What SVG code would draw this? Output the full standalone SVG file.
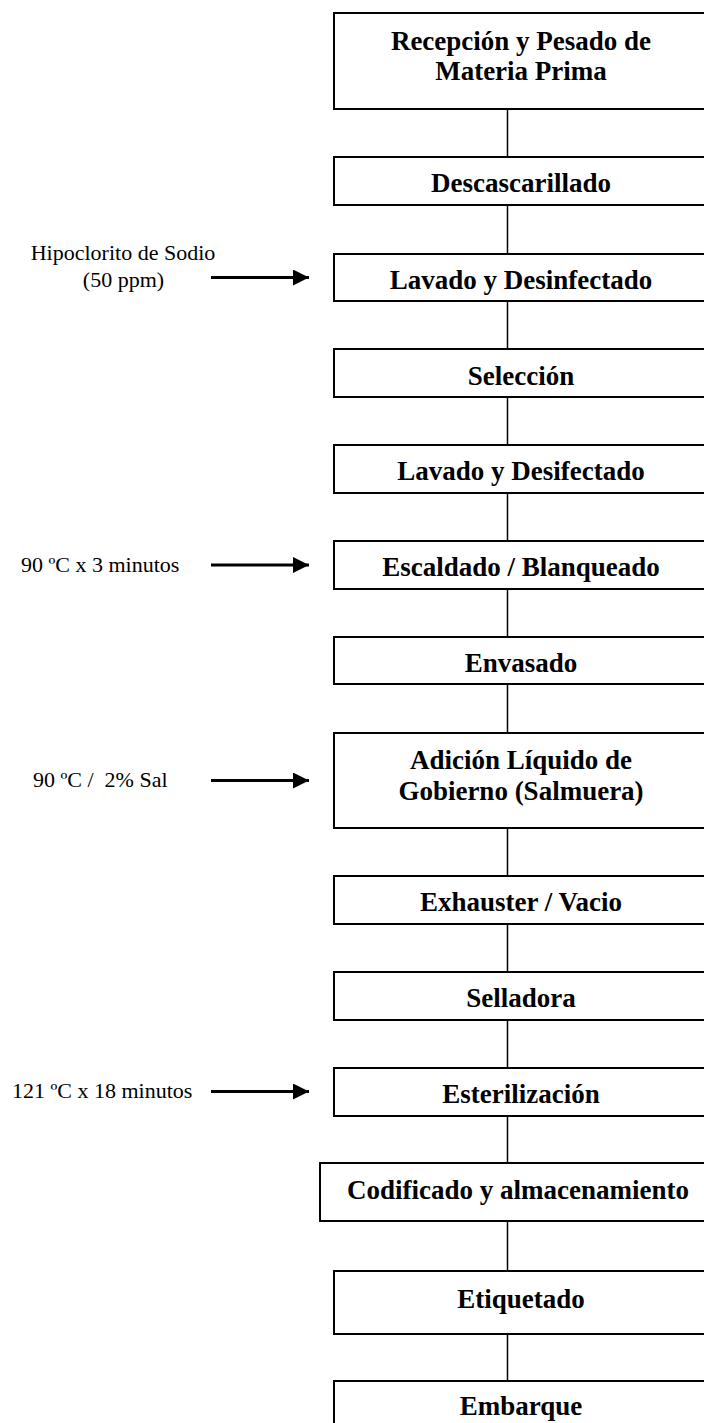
<svg xmlns="http://www.w3.org/2000/svg" width="704" height="1423" viewBox="0 0 704 1423">
<style>
.box{fill:#fff;stroke:#000;stroke-width:2}
.t{font-family:"Liberation Serif","Times New Roman",serif;font-weight:bold;font-size:27px;text-anchor:middle;fill:#000}
.l{font-family:"Liberation Serif","Times New Roman",serif;font-size:22px;fill:#000;white-space:pre}
.c{stroke:#000;stroke-width:1.5;fill:none}
.a{stroke:#000;stroke-width:3;fill:none}
</style>
<defs>
<marker id="ah" markerUnits="userSpaceOnUse" markerWidth="18" markerHeight="18" refX="16" refY="8" orient="auto">
<path d="M0,0 L16,8 L0,16 Z" fill="#000"/>
</marker>
</defs>
<rect width="704" height="1423" fill="#fff"/>
<g id="connectors">
<line class="c" x1="507.5" y1="109" x2="507.5" y2="157"/>
<line class="c" x1="507.5" y1="205" x2="507.5" y2="254"/>
<line class="c" x1="507.5" y1="301" x2="507.5" y2="349"/>
<line class="c" x1="507.5" y1="397" x2="507.5" y2="445"/>
<line class="c" x1="507.5" y1="493" x2="507.5" y2="541"/>
<line class="c" x1="507.5" y1="589" x2="507.5" y2="637"/>
<line class="c" x1="507.5" y1="684" x2="507.5" y2="733"/>
<line class="c" x1="507.5" y1="828" x2="507.5" y2="876"/>
<line class="c" x1="507.5" y1="924" x2="507.5" y2="972"/>
<line class="c" x1="507.5" y1="1020" x2="507.5" y2="1068"/>
<line class="c" x1="507.5" y1="1116" x2="507.5" y2="1163"/>
<line class="c" x1="507.5" y1="1221" x2="507.5" y2="1271"/>
<line class="c" x1="507.5" y1="1334" x2="507.5" y2="1381"/>
<line class="a" x1="211" y1="277.5" x2="309" y2="277.5" marker-end="url(#ah)"/>
<line class="a" x1="211" y1="565" x2="309" y2="565" marker-end="url(#ah)"/>
<line class="a" x1="211" y1="780.5" x2="309" y2="780.5" marker-end="url(#ah)"/>
<line class="a" x1="211" y1="1091.5" x2="309" y2="1091.5" marker-end="url(#ah)"/>
</g>
<g id="n1"><rect class="box" x="334" y="13" width="374" height="96"/><text class="t" x="521" y="50">Recepción y Pesado de</text><text class="t" x="521" y="80">Materia Prima</text></g>
<g id="n2"><rect class="box" x="334" y="157" width="374" height="48"/><text class="t" x="521" y="192">Descascarillado</text></g>
<g id="n3"><rect class="box" x="334" y="254" width="374" height="47"/><text class="t" x="521" y="288.5">Lavado y Desinfectado</text></g>
<g id="n4"><rect class="box" x="334" y="349" width="374" height="48"/><text class="t" x="521" y="384.5">Selección</text></g>
<g id="n5"><rect class="box" x="334" y="445" width="374" height="48"/><text class="t" x="521" y="480">Lavado y Desifectado</text></g>
<g id="n6"><rect class="box" x="334" y="541" width="374" height="48"/><text class="t" x="521" y="576">Escaldado / Blanqueado</text></g>
<g id="n7"><rect class="box" x="334" y="637" width="374" height="47"/><text class="t" x="521" y="672">Envasado</text></g>
<g id="n8"><rect class="box" x="334" y="733" width="374" height="95"/><text class="t" x="521" y="768.5">Adición Líquido de</text><text class="t" x="521" y="800">Gobierno (Salmuera)</text></g>
<g id="n9"><rect class="box" x="334" y="876" width="374" height="48"/><text class="t" x="521" y="911">Exhauster / Vacio</text></g>
<g id="n10"><rect class="box" x="334" y="972" width="374" height="48"/><text class="t" x="521" y="1007">Selladora</text></g>
<g id="n11"><rect class="box" x="334" y="1068" width="374" height="48"/><text class="t" x="521" y="1103">Esterilización</text></g>
<g id="n12"><rect class="box" x="320" y="1163" width="396" height="58"/><text class="t" x="518" y="1199">Codificado y almacenamiento</text></g>
<g id="n13"><rect class="box" x="334" y="1271" width="374" height="63"/><text class="t" x="521" y="1307.5">Etiquetado</text></g>
<g id="n14"><rect class="box" x="334" y="1381" width="374" height="63"/><text class="t" x="521" y="1415">Embarque</text></g>
<g id="label1"><text class="l" x="123" y="260" text-anchor="middle">Hipoclorito de Sodio</text><text class="l" x="123.5" y="286.5" text-anchor="middle">(50 ppm)</text></g>
<g id="label2"><text class="l" x="21" y="571.5">90 ºC x 3 minutos</text></g>
<g id="label3"><text class="l" x="33" y="786.5" xml:space="preserve">90 ºC /  2% Sal</text></g>
<g id="label4"><text class="l" x="12" y="1097.5">121 ºC x 18 minutos</text></g>
</svg>
